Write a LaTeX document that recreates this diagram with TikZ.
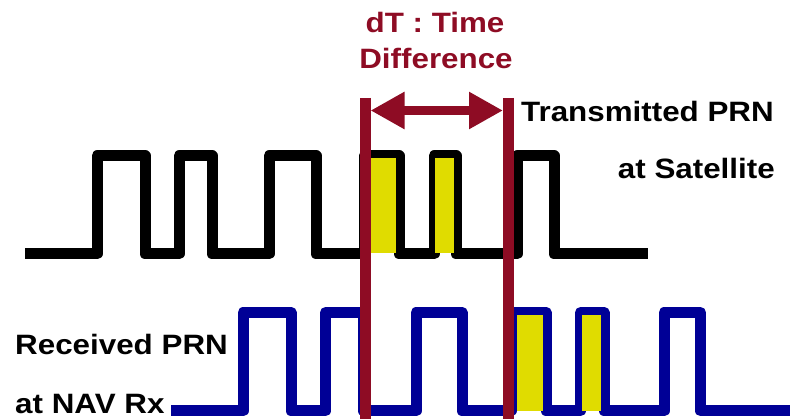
\documentclass[tikz,border=0pt]{standalone}
\usepackage{fontspec}
\setmainfont{Liberation Sans}
\usetikzlibrary{arrows.meta}
\definecolor{darkred}{HTML}{8E0C24}
\definecolor{navy}{HTML}{000096}
\definecolor{ylw}{HTML}{E0DC00}
\tikzset{
  wave/.style={line width=11pt, line join=round, line cap=butt},
  marker/.style={fill=ylw, draw=none},
  redline/.style={draw=darkred, line width=11pt},
  label/.style={inner sep=0pt, font=\fontsize{28}{33}\selectfont\bfseries},
}
\newcommand{\wtxt}[1]{\scalebox{1.12}[1]{#1}}
\begin{document}
\begin{tikzpicture}[x=1pt,y=-1pt]
\useasboundingbox (0,0) rectangle (790,419);
% transmitted PRN (black)
\draw[wave, black] (25,254) -- (97,254) -- (97,156) -- (145,156) -- (145,254)
  -- (179,254) -- (179,156) -- (212,156) -- (212,254)
  -- (269,254) -- (269,156) -- (316,156) -- (316,254)
  -- (364,254) -- (364,156) -- (399,156) -- (399,254)
  -- (434,254) -- (434,156) -- (456,156) -- (456,254)
  -- (517,254) -- (517,156) -- (554,156) -- (554,254) -- (648,254);
% received PRN (blue)
\draw[wave, navy] (171,411) -- (243,411) -- (243,312.5) -- (291,312.5) -- (291,411)
  -- (325.5,411) -- (325.5,312.5) -- (363,312.5) -- (363,411)
  -- (416,411) -- (416,312.5) -- (462,312.5) -- (462,411)
  -- (511,411) -- (511,312.5) -- (546,312.5) -- (546,411)
  -- (580.5,411) -- (580.5,312.5) -- (604,312.5) -- (604,411)
  -- (664,411) -- (664,312.5) -- (700.5,312.5) -- (700.5,411) -- (790,411);
% yellow markers
\path[marker] (370.5,158) rectangle (396,253.5);
\path[marker] (435,158) rectangle (454,253.5);
\path[marker] (517.3,315) rectangle (542.7,410.7);
\path[marker] (581.7,315) rectangle (600.7,410.7);
% red time marks
\coordinate (l1) at (365,98);
\coordinate (l2) at (365,419);
\coordinate (r1) at (508.5,98);
\coordinate (r2) at (508.5,419);
\draw[redline] (l1) -- (l2);
\draw[redline] (r1) -- (r2);
\coordinate (al) at (370.5,110.5);
\coordinate (ar) at (503,110.5);
\draw[darkred, line width=9pt, {Triangle[length=34pt,width=35pt]}-{Triangle[length=34pt,width=35pt]}] (al) -- (ar);
% labels
\node[label, text=darkred, anchor=base] (dt) at (435,32.5) {\wtxt{dT : Time}};
\node[label, text=darkred, anchor=base] (diff) at (436,68.3) {\wtxt{Difference}};
\node[label, anchor=base east] (tx1) at (774,121.7) {\wtxt{Transmitted PRN}};
\node[label, anchor=base east] (tx2) at (775,178.5) {\wtxt{at Satellite}};
\node[label, anchor=base west] (rx1) at (15,354.5) {\wtxt{Received PRN}};
\node[label, anchor=base west] (rx2) at (15,413.3) {\wtxt{at NAV Rx}};
\end{tikzpicture}
\end{document}
